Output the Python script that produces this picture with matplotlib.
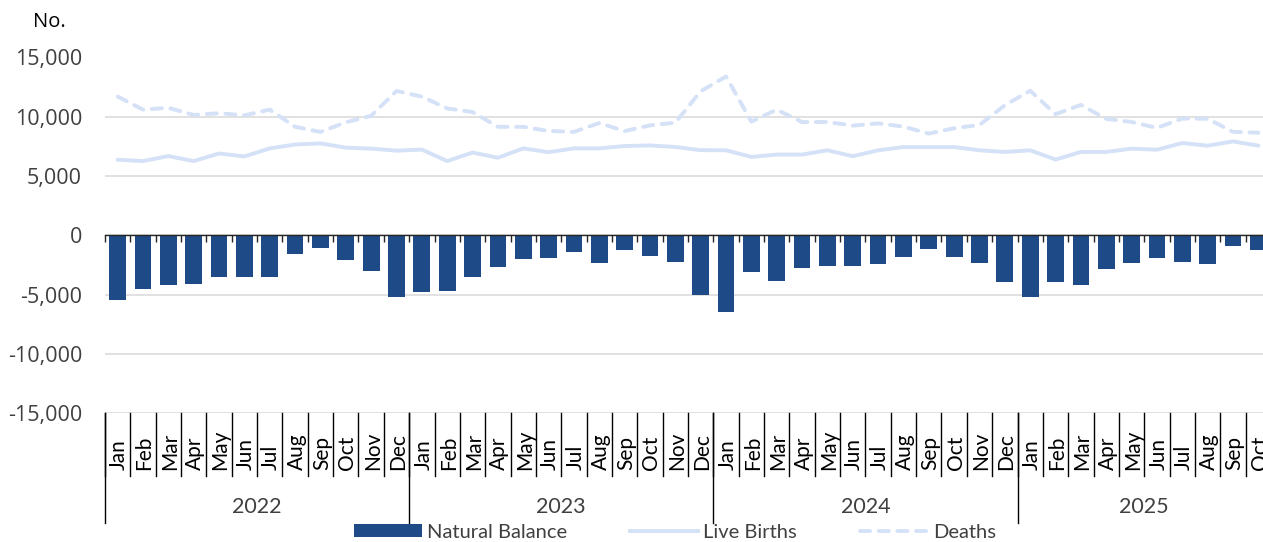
import matplotlib
matplotlib.use('Agg')
import matplotlib.pyplot as plt
import matplotlib.ticker as mticker
from matplotlib.lines import Line2D
from matplotlib.patches import Patch
import numpy as np

# Data (Jan 2022 - Oct 2025)
months = ['Jan', 'Feb', 'Mar', 'Apr', 'May', 'Jun',
          'Jul', 'Aug', 'Sep', 'Oct', 'Nov', 'Dec'] * 3 + \
         ['Jan', 'Feb', 'Mar', 'Apr', 'May', 'Jun', 'Jul', 'Aug', 'Sep', 'Oct']
years = ['2022', '2023', '2024', '2025']
year_counts = [12, 12, 12, 10]

natural_balance = [-5440, -4500, -4200, -4080, -3530, -3530, -3530, -1610, -1080, -2110, -3000, -5250,
                   -4800, -4700, -3530, -2670, -2000, -1920, -1390, -2360, -1280, -1720, -2250, -5030,
                   -6440, -3110, -3860, -2780, -2580, -2580, -2440, -1830, -1170, -1830, -2330, -3940,
                   -5220, -3940, -4170, -2860, -2360, -1920, -2250, -2440, -940, -1280]
live_births = [6370, 6260, 6680, 6260, 6900, 6650, 7330, 7660, 7750, 7390, 7310, 7140,
               7230, 6260, 6980, 6540, 7330, 7010, 7330, 7330, 7530, 7580, 7450, 7180,
               7170, 6610, 6810, 6810, 7170, 6670, 7170, 7440, 7440, 7440, 7170, 7030,
               7170, 6390, 7030, 7030, 7310, 7220, 7780, 7560, 7920, 7560]
deaths = [11700, 10600, 10750, 10150, 10300, 10120, 10600, 9150, 8720, 9530, 10080, 12170,
          11700, 10700, 10400, 9150, 9150, 8800, 8720, 9470, 8790, 9270, 9500, 12150,
          13400, 9590, 10600, 9550, 9560, 9250, 9440, 9170, 8580, 9030, 9310, 10970,
          12200, 10220, 11000, 9820, 9560, 9060, 9850, 9830, 8730, 8650]

bar_color = '#1F4A88'
line_color = '#D4E1F6'
grid_color = '#D9D9D9'
text_color = '#404040'
font = 'Lato'
dash = (2.6, 2.2)

fig = plt.figure(figsize=(12.63, 5.42), dpi=100)
ax = fig.add_axes([105 / 1263, 1 - 413 / 542, 1166 / 1263, 355.5 / 542])

x = np.arange(len(months)) + 0.5
ax.bar(x, natural_balance, width=0.66, color=bar_color, zorder=3)
ax.plot(x, live_births, color=line_color, lw=2.8, zorder=4, solid_capstyle='round')
ax.plot(x, deaths, color=line_color, lw=2.8, zorder=4, dashes=dash,
        dash_capstyle='round')

ax.set_xlim(0, len(months))
ax.set_ylim(-15000, 15000)
ax.set_yticks(np.arange(-15000, 15001, 5000))
ax.yaxis.set_major_formatter(mticker.FuncFormatter(lambda v, p: f'{v:,.0f}'))
ax.grid(axis='y', color=grid_color, lw=1.1, zorder=0)
ax.set_axisbelow(True)

for s in ['top', 'right', 'left']:
    ax.spines[s].set_visible(False)
ax.spines['bottom'].set_position(('data', 0))
ax.spines['bottom'].set_color('#262626')
ax.spines['bottom'].set_linewidth(1.0)
ax.spines['bottom'].set_zorder(5)
ax.set_xticks(np.arange(0, len(months) + 1))
ax.set_xticklabels([])
ax.tick_params(axis='x', direction='out', length=5, width=1.0, color='#262626')
ax.tick_params(axis='y', length=0, pad=16.5, labelsize=15.5, labelcolor=text_color)
for lab in ax.get_yticklabels():
    lab.set_fontfamily('Open Sans')

# Multi-level category labels below the plot
trans = ax.get_xaxis_transform()
month_bottom = -(476 - 413) / 355.5
year_bottom = -(523 - 413) / 355.5
for i, m in enumerate(months):
    ax.text(i + 0.56, -(470 - 413) / 355.5, m, rotation=90, ha='center', va='bottom',
            fontsize=15, family=font, color='black', transform=trans, clip_on=False)
for b in range(len(months) + 1):
    ax.plot([b, b], [0, month_bottom], color='black', lw=1.0, transform=trans, clip_on=False)

start = 0
for yr, n in zip(years, year_counts):
    ax.plot([start, start], [0, year_bottom], color='black', lw=1.0, transform=trans, clip_on=False)
    ax.text(start + n / 2, -(507 - 413) / 355.5, yr, ha='center', va='center',
            fontsize=15.5, family=font, color=text_color, transform=trans, clip_on=False)
    start += n

fig.text(49 / 1263, 1 - 22 / 542, 'No.', ha='center', va='center', fontsize=14.5,
         family='Open Sans', color='black')

handles = [Patch(facecolor=bar_color, edgecolor='none'),
           Line2D([], [], color=line_color, lw=2.8),
           Line2D([], [], color=line_color, lw=2.8, dashes=dash, dash_capstyle='round')]
fig.legend(handles, ['Natural Balance', 'Live Births', 'Deaths'], loc='center',
           bbox_to_anchor=(675 / 1263, 1 - 532 / 542), ncol=3, frameon=False,
           prop={'family': font, 'size': 14.5}, handlelength=3.4, handleheight=0.65,
           handletextpad=0.25, columnspacing=3.1, labelcolor=text_color,
           borderpad=0.1)

fig.savefig('out.png', dpi=100)
